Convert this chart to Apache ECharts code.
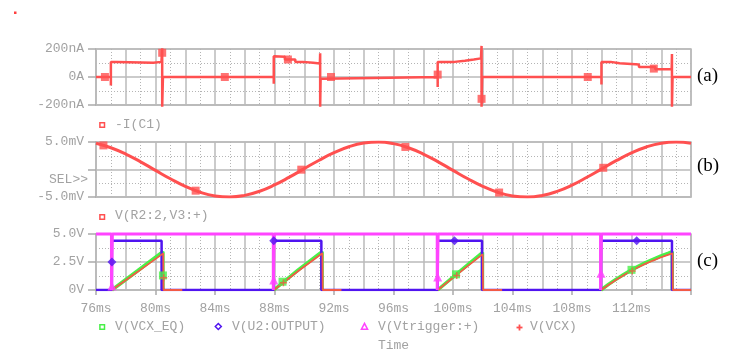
<!DOCTYPE html>
<html>
<head>
<meta charset="utf-8">
<script src="https://cdn.jsdelivr.net/npm/echarts@6.0.0/dist/echarts.min.js"></script>
<style>
html,body{margin:0;padding:0;background:#fff;}
#chart{width:730px;height:359px;}
</style>
</head>
<body>
<div id="chart"></div>
<script>
// ---------- data ----------
// (a) -I(C1) in nA
const iC1Time = [76, 77.0, 77.0, 77.0, 77.4, 77.4, 79.85, 79.85, 80.4, 80.45, 80.45, 80.5,
  87.95, 87.95, 87.95, 88.7, 88.7, 89.4, 89.4, 89.9, 89.9, 90.6, 90.6, 91.05, 91.07, 91.07, 91.1, 91.3, 91.3,
  98.97, 98.97, 98.97, 100.1, 100.1, 100.8, 100.8, 101.4, 101.4, 101.88, 101.92, 101.92, 101.96,
  109.98, 109.98, 109.98, 110.6, 110.6, 111.2, 111.2, 112.5, 112.5, 113.6, 113.6, 114.7, 114.72, 114.72, 114.76, 116];
const iC1Value = [0, 0, -60, 108, 108, 101, 101, 108, 108, 205, -212, 0,
  0, -48, 149, 145, 125, 125, 108, 108, 101, 101, 96, 96, 170, -212, -12, -12, 0,
  0, -72, 108, 108, 116, 116, 125, 125, 133, 133, 222, -212, 0,
  0, -53, 108, 108, 98, 98, 90, 90, 72, 72, 55, 55, 165, -212, 0, 0];
const iC1MarkTime = [76.6, 80.45, 84.66, 88.9, 91.8, 98.97, 101.92, 109.06, 113.5];
const iC1MarkValue = [0, 173, 0, 125, 0, 17, -156, 0, 60];

// (b) V(R2:2,V3:+) in mV
const vR2Time = [76,77,78,79,80,81,82,83,84,85,86,87,88,89,90,91,92,93,94,95,96,97,98,99,100,101,102,103,104,105,106,107,108,109,110,111,112,113,114,115,116];
const vR2Value = [4.78, 3.95, 2.81, 1.39, -0.16, -1.69, -3.06, -4.14, -4.80, -5.00, -4.70, -3.95, -2.81, -1.39, 0.16, 1.69, 3.06, 4.14, 4.80, 5.00, 4.70, 3.95, 2.81, 1.39, -0.16, -1.69, -3.06, -4.14, -4.80, -5.00, -4.72, -3.98, -2.85, -1.42, 0.12, 1.65, 3.02, 4.10, 4.78, 5.00, 4.75];
const vR2MarkTime = [76.5, 82.7, 89.8, 96.8, 103.1, 110.1];
const vR2MarkValue = [4.38, -3.85, -0.03, 4.1, -4.19, 0.31];

// (c) voltages in V
const vTrigTime = [76, 77.04, 77.04, 77.1, 77.1, 87.92, 87.92, 87.98, 87.98, 98.94, 98.94, 99.0, 99.0, 109.92, 109.92, 109.98, 109.98, 116];
const vTrigValue = [5, 5, 0, 0, 5, 5, 0, 0, 5, 5, 0, 0, 5, 5, 0, 0, 5, 5];
const vTrigMarkTime = [77.07, 87.95, 98.97, 109.95];
const vTrigMarkValue = [0.35, 0.9, 1.15, 1.5];

const vU2Time = [76, 77.07, 77.07, 80.41, 80.41, 87.95, 87.95, 91.15, 91.15, 98.97, 98.97, 101.95, 101.95, 109.95, 109.95, 114.72, 114.72, 116];
const vU2Value = [0, 0, 4.4, 4.4, 0, 0, 4.4, 4.4, 0, 0, 4.4, 4.4, 0, 0, 4.4, 4.4, 0, 0];
const vU2MarkTime = [77.07, 87.95, 100.1, 112.35];
const vU2MarkValue = [2.5, 4.4, 4.4, 4.4];

const vcxEqTime = [77.07, 78.8, 80.5, 80.5, 81, 87.95, 89.6, 91.2, 91.2, 92, 98.97, 100.5, 101.98, 101.98, 102.5,
  109.95, 110.45, 110.95, 111.45, 111.95, 112.45, 112.95, 113.45, 113.95, 114.45, 114.74, 114.74];
const vcxEqValue = [0, 1.72, 3.42, 0, null, 0, 1.8, 3.42, 0, null, 0, 1.72, 3.35, 0, null,
  0, 0.50, 0.95, 1.37, 1.76, 2.11, 2.44, 2.74, 3.02, 3.27, 3.42, 0];
const vcxEqMarkTime = [80.5, 88.54, 100.2, 112.0];
const vcxEqMarkValue = [1.3, 0.74, 1.4, 1.8];

const vcxTime = [77.07, 78.8, 80.52, 80.54, 81.8, 81.8, 87.95, 89.6, 91.22, 91.24, 92.5, 92.5, 98.97, 100.5, 102.0, 102.02, 103.3, 103.3,
  109.95, 110.45, 110.95, 111.45, 111.95, 112.45, 112.95, 113.45, 113.95, 114.45, 114.76, 114.78, 116];
const vcxValue = [0, 1.62, 3.27, 0, 0, null, 0, 1.7, 3.28, 0, 0, null, 0, 1.62, 3.2, 0, 0, null,
  0, 0.45, 0.9, 1.3, 1.69, 2.03, 2.35, 2.63, 2.9, 3.14, 3.27, 0, 0];
const vcxMarkTime = [80.55, 88.6, 100.25, 112.05];
const vcxMarkValue = [1.1, 0.65, 1.3, 1.7];

// ---------- styling ----------
const MONO = '"Liberation Mono", "DejaVu Sans Mono", monospace';
const FS = 13;
const GRAY_TXT = '#a2a2a2';
const GRID_SOLID = '#bababa';
const GRID_DOT = '#b4b4b4';
const RED = '#ff5050';
const RED2 = '#f25a46';
const GREEN = '#48f048';
const BLUE = '#5014f0';
const MAGENTA = '#ff44ff';

const zip = (a, b) => a.map((t, i) => [t, b[i]]);

const gridDefs = [
  {left: 96, top: 49, width: 595, height: 56},
  {left: 96, top: 142, width: 595, height: 55},
  {left: 96, top: 234, width: 595, height: 56}
];

function makeX(i) {
  return {
    type: 'value', gridIndex: i, min: 76, max: 116, interval: 2, position: 'bottom',
    axisLine: {show: true, onZero: false, lineStyle: {color: GRID_SOLID, width: 1.5}},
    axisTick: {show: false},
    axisLabel: {show: false},
    splitLine: {show: true, lineStyle: {color: GRID_SOLID, width: 1.5}},
    minorTick: {show: false, splitNumber: 2},
    minorSplitLine: {show: true, lineStyle: {color: GRID_DOT, width: 1, type: [1, 2]}}
  };
}
// tick + label axis overlaid on the bottom panel
const xLabelAxis = {
  type: 'value', gridIndex: 2, min: 76, max: 116, interval: 4, position: 'bottom',
  axisLine: {show: false, onZero: false},
  axisTick: {show: true, length: 5, lineStyle: {color: '#aaaaaa', width: 1.5}},
  axisLabel: {show: true, margin: 12, formatter: v => v >= 116 ? '' : v + 'ms',
    fontFamily: MONO, fontSize: FS, color: GRAY_TXT},
  splitLine: {show: false}
};
function makeY(i, min, max, interval, fmt) {
  return {
    type: 'value', gridIndex: i, min: min, max: max, interval: interval,
    axisLine: {show: true, onZero: false, lineStyle: {color: GRID_SOLID, width: 1.5}},
    axisTick: {show: true, length: 8, lineStyle: {color: '#aaaaaa', width: 1.5}},
    axisLabel: {margin: 12, formatter: fmt, fontFamily: MONO, fontSize: FS, color: GRAY_TXT},
    splitLine: {show: true, lineStyle: {color: GRID_SOLID, width: 1.5}},
    minorTick: {show: false, splitNumber: 2},
    minorSplitLine: {show: true, lineStyle: {color: GRID_DOT, width: 1, type: [1, 2]}}
  };
}

const plusPath = 'path://M4,0H6V4H10V6H6V10H4V6H0V4H4Z';

function lineSeries(x, y, data, color, width, extra) {
  return Object.assign({
    type: 'line', xAxisIndex: x, yAxisIndex: y, data: data, showSymbol: false,
    symbol: 'none', lineStyle: {color: color, width: width}, itemStyle: {color: color},
    connectNulls: false, silent: true
  }, extra || {});
}
function markSeries(x, y, data, color, symbol, size) {
  return {type: 'scatter', xAxisIndex: x, yAxisIndex: y, data: data, symbol: symbol,
    symbolSize: size, itemStyle: {color: color}, silent: true, z: 5};
}

function txt(x, y, text, opts) {
  return {
    type: 'text', x: x, y: y, silent: true,
    style: Object.assign({text: text, font: FS + 'px ' + MONO, fill: GRAY_TXT, align: 'left', verticalAlign: 'middle'}, (opts || {}))
  };
}
function hollowRect(cx, cy, color) {
  return {type: 'rect', shape: {x: cx - 2.3, y: cy - 2.3, width: 4.6, height: 4.6},
    style: {fill: 'none', stroke: color, lineWidth: 1.5}, silent: true};
}
function seg(x1, y1, x2, y2, color) {
  return {type: 'line', shape: {x1: x1, y1: y1, x2: x2, y2: y2},
    style: {stroke: color, lineWidth: 1.8}, silent: true};
}

const option = {
  animation: false,
  grid: gridDefs.map(g => Object.assign({show: true, borderColor: GRID_SOLID, borderWidth: 1.5}, g)),
  xAxis: [makeX(0), makeX(1), makeX(2), xLabelAxis],
  yAxis: [
    makeY(0, -200, 200, 200, v => v === 0 ? '0A' : v + 'nA'),
    makeY(1, -5, 5, 5, v => v === 0 ? '' : v.toFixed(1) + 'mV'),
    makeY(2, 0, 5, 2.5, v => v === 0 ? '0V' : v.toFixed(1) + 'V')
  ],
  series: [
    lineSeries(0, 0, zip(iC1Time, iC1Value), RED, 2.5, {clip: false}),
    markSeries(0, 0, zip(iC1MarkTime, iC1MarkValue), RED, 'rect', 8),
    lineSeries(1, 1, zip(vR2Time, vR2Value), RED, 3, {smooth: true}),
    markSeries(1, 1, zip(vR2MarkTime, vR2MarkValue), RED, 'rect', 8),
    lineSeries(2, 2, zip(vcxEqTime, vcxEqValue), GREEN, 3.5),
    lineSeries(2, 2, zip(vU2Time, vU2Value), BLUE, 2.5),
    lineSeries(2, 2, zip(vcxTime, vcxValue), RED2, 1.8),
    lineSeries(2, 2, zip(vTrigTime, vTrigValue), MAGENTA, 3, {clip: false}),
    markSeries(2, 2, zip(vcxEqMarkTime, vcxEqMarkValue), GREEN, 'rect', 8),
    markSeries(2, 2, zip(vU2MarkTime, vU2MarkValue), BLUE, 'diamond', 9),
    markSeries(2, 2, zip(vTrigMarkTime, vTrigMarkValue), MAGENTA, 'triangle', 9),
    markSeries(2, 2, zip(vcxMarkTime, vcxMarkValue), RED2, plusPath, 7)
  ],
  graphic: [
    {type: 'rect', shape: {x: 14, y: 11.5, width: 2.5, height: 2.5}, style: {fill: '#ff4040'}, silent: true},
    hollowRect(102.2, 125, RED),
    txt(115, 125, '-I(C1)'),
    hollowRect(102.2, 217, RED),
    txt(115, 215.5, 'V(R2:2,V3:+)'),
    txt(88, 180, 'SEL>>', {align: 'right'}),
    hollowRect(102.2, 327, GREEN),
    txt(115, 326.5, 'V(VCX_EQ)'),
    {type: 'polygon', shape: {points: [[218.3, 323.5], [221.3, 326.5], [218.3, 329.5], [215.3, 326.5]]},
      style: {fill: 'none', stroke: BLUE, lineWidth: 1.5}, silent: true},
    txt(232, 326.5, 'V(U2:OUTPUT)'),
    {type: 'polygon', shape: {points: [[364.5, 323.3], [367.6, 329.3], [361.4, 329.3]]},
      style: {fill: 'none', stroke: MAGENTA, lineWidth: 1.5}, silent: true},
    txt(378, 326.5, 'V(Vtrigger:+)'),
    seg(516.5, 327.5, 522.5, 327.5, RED),
    seg(519.5, 324.5, 519.5, 330.5, RED),
    txt(530, 326.5, 'V(VCX)'),
    txt(393.5, 346, 'Time', {align: 'center'}),
    txt(697, 76, '(a)', {font: '19px "Liberation Serif", serif', fill: '#000000'}),
    txt(697, 166, '(b)', {font: '19px "Liberation Serif", serif', fill: '#000000'}),
    txt(697, 261, '(c)', {font: '19px "Liberation Serif", serif', fill: '#000000'})
  ]
};

const chart = echarts.init(document.getElementById('chart'), null, {renderer: 'canvas'});
chart.setOption(option);
</script>
</body>
</html>
